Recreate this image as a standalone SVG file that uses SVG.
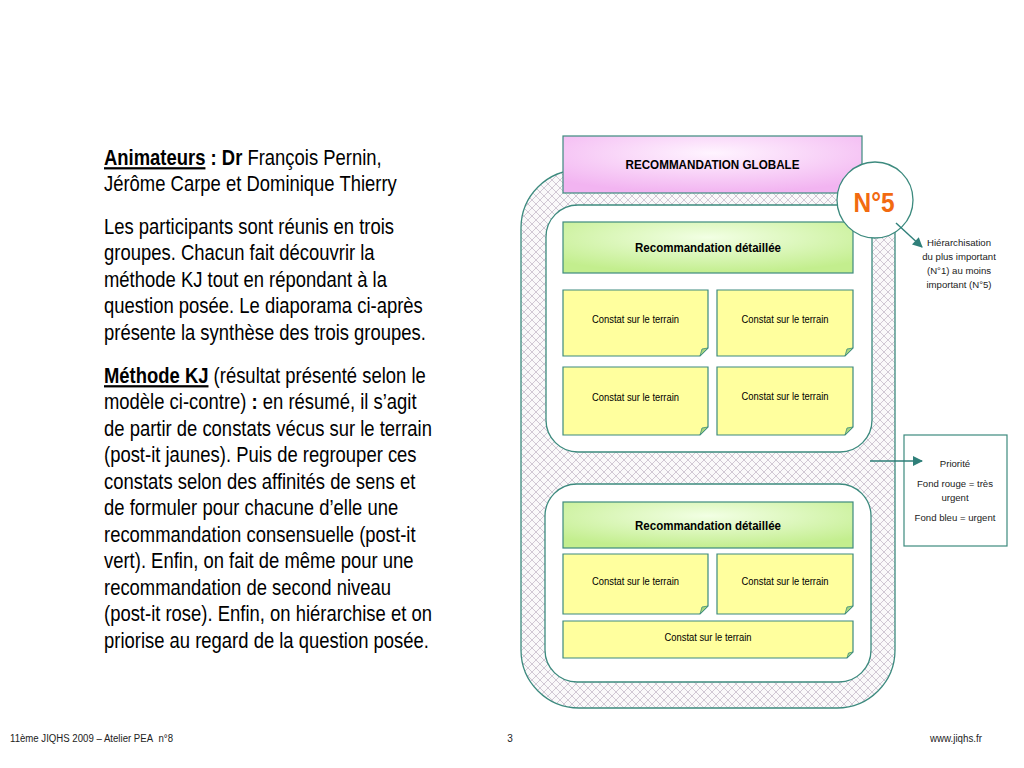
<svg xmlns="http://www.w3.org/2000/svg" width="1024" height="768" viewBox="0 0 1024 768">
<defs>
<style>
.t{font-family:"Liberation Sans",Arial,sans-serif;fill:#000}
.body{font-size:22.5px}
.b{font-weight:bold}
.note{fill:#FFFF9E;stroke:#3C8A7E;stroke-width:1.2}
.fold{fill:#A6D67E;stroke:#3C8A7E;stroke-width:0.8}
.small{font-size:10.6px;text-anchor:middle}
.side{font-size:9.6px;text-anchor:middle;fill:#222}
.teal{stroke:#2F7F79;stroke-width:1.4}
.foot{font-size:10px;fill:#222}
</style>
<pattern id="hatch" width="8" height="8" patternUnits="userSpaceOnUse">
<rect width="8" height="8" fill="#FAF9FA"/>
<path d="M0,4 L4,0 L8,4 L4,8 Z" fill="none" stroke="#CDC3D0" stroke-width="0.9"/>
</pattern>
<radialGradient id="pink" cx="0.5" cy="0.3" r="0.7">
<stop offset="0" stop-color="#FFF4FF"/>
<stop offset="1" stop-color="#F2B4F1"/>
</radialGradient>
<radialGradient id="green" cx="0.5" cy="0.3" r="0.7">
<stop offset="0" stop-color="#F2FFE4"/>
<stop offset="1" stop-color="#C3EE8E"/>
</radialGradient>
<marker id="ah" viewBox="0 0 10 10" refX="9" refY="5" markerWidth="11" markerHeight="10" orient="auto" markerUnits="userSpaceOnUse">
<path d="M0,0 L10,5 L0,10 Z" fill="#2F7F79"/>
</marker>
</defs>
<rect width="1024" height="768" fill="#FFFFFF"/>

<g id="left-text" transform="translate(104,0) scale(0.82,1)">
<text class="t body" x="0" y="165"><tspan class="b" text-decoration="underline">Animateurs</tspan><tspan class="b"> : Dr</tspan> François Pernin,</text>
<text class="t body" x="0" y="191.5">Jérôme Carpe et Dominique Thierry</text>
<text class="t body" x="0" y="234">Les participants sont réunis en trois</text>
<text class="t body" x="0" y="260.5">groupes. Chacun fait découvrir la</text>
<text class="t body" x="0" y="287">méthode KJ tout en répondant à la</text>
<text class="t body" x="0" y="313.5">question posée. Le diaporama ci-après</text>
<text class="t body" x="0" y="340">présente la synthèse des trois groupes.</text>
<text class="t body" x="0" y="383"><tspan class="b" text-decoration="underline">Méthode KJ</tspan> (résultat présenté selon le</text>
<text class="t body" x="0" y="409.5">modèle ci-contre) <tspan class="b">:</tspan> en résumé, il s’agit</text>
<text class="t body" x="0" y="436">de partir de constats vécus sur le terrain</text>
<text class="t body" x="0" y="462.5">(post-it jaunes). Puis de regrouper ces</text>
<text class="t body" x="0" y="489">constats selon des affinités de sens et</text>
<text class="t body" x="0" y="515.5">de formuler pour chacune d’elle une</text>
<text class="t body" x="0" y="542">recommandation consensuelle (post-it</text>
<text class="t body" x="0" y="568.5">vert). Enfin, on fait de même pour une</text>
<text class="t body" x="0" y="595">recommandation de second niveau</text>
<text class="t body" x="0" y="621.5">(post-it rose). Enfin, on hiérarchise et on</text>
<text class="t body" x="0" y="648">priorise au regard de la question posée.</text>
</g>

<g id="outer-frame">
<rect x="521" y="170" width="374" height="538" rx="58" ry="58" fill="url(#hatch)" stroke="#3C8A7E" stroke-width="1.3"/>
</g>

<g id="group-1">
<rect x="546" y="205" width="326" height="247" rx="32" ry="32" fill="#FFFFFF" stroke="#3C8A7E" stroke-width="1.3"/>
</g>
<g id="group-2">
<rect x="545" y="484" width="326" height="198" rx="32" ry="32" fill="#FFFFFF" stroke="#3C8A7E" stroke-width="1.3"/>
</g>

<g id="reco-globale">
<rect x="563" y="136" width="299" height="57" fill="url(#pink)" stroke="#3C8A7E" stroke-width="1.2"/>
<text class="t b" x="712.5" y="169" font-size="12" text-anchor="middle" textLength="174" lengthAdjust="spacingAndGlyphs">RECOMMANDATION GLOBALE</text>
</g>

<g id="reco-detail-1">
<rect x="563" y="222" width="290" height="51" fill="url(#green)" stroke="#3C8A7E" stroke-width="1.2"/>
<text class="t b" x="708" y="252" font-size="12" text-anchor="middle" textLength="146" lengthAdjust="spacingAndGlyphs">Recommandation détaillée</text>
</g>

<g id="constat-1">
<path class="note" d="M563,290 H708 V348 L700,356 H563 Z"/>
<path class="fold" d="M708,348 L700,356 L702,349 Z"/>
<text class="t small" x="635.5" y="323" textLength="87" lengthAdjust="spacingAndGlyphs">Constat sur le terrain</text>
</g>
<g id="constat-2">
<path class="note" d="M717,290 H853 V348 L845,356 H717 Z"/>
<path class="fold" d="M853,348 L845,356 L847,349 Z"/>
<text class="t small" x="785" y="323" textLength="87" lengthAdjust="spacingAndGlyphs">Constat sur le terrain</text>
</g>
<g id="constat-3">
<path class="note" d="M563,367 H708 V427 L700,435 H563 Z"/>
<path class="fold" d="M708,427 L700,435 L702,428 Z"/>
<text class="t small" x="635.5" y="401" textLength="87" lengthAdjust="spacingAndGlyphs">Constat sur le terrain</text>
</g>
<g id="constat-4">
<path class="note" d="M717,367 H853 V427 L845,435 H717 Z"/>
<path class="fold" d="M853,427 L845,435 L847,428 Z"/>
<text class="t small" x="785" y="400" textLength="87" lengthAdjust="spacingAndGlyphs">Constat sur le terrain</text>
</g>

<g id="reco-detail-2">
<rect x="563" y="502" width="290" height="46" fill="url(#green)" stroke="#3C8A7E" stroke-width="1.2"/>
<text class="t b" x="708" y="530" font-size="12" text-anchor="middle" textLength="146" lengthAdjust="spacingAndGlyphs">Recommandation détaillée</text>
</g>
<g id="constat-5">
<path class="note" d="M563,554 H708 V606 L700,614 H563 Z"/>
<path class="fold" d="M708,606 L700,614 L702,607 Z"/>
<text class="t small" x="635.5" y="585" textLength="87" lengthAdjust="spacingAndGlyphs">Constat sur le terrain</text>
</g>
<g id="constat-6">
<path class="note" d="M717,554 H853 V606 L845,614 H717 Z"/>
<path class="fold" d="M853,606 L845,614 L847,607 Z"/>
<text class="t small" x="785" y="585" textLength="87" lengthAdjust="spacingAndGlyphs">Constat sur le terrain</text>
</g>
<g id="constat-7">
<path class="note" d="M563,621 H853 V652 L847,658 H563 Z"/>
<path class="fold" d="M853,652 L847,658 L848.5,653 Z"/>
<text class="t small" x="708" y="641" textLength="87" lengthAdjust="spacingAndGlyphs">Constat sur le terrain</text>
</g>

<g id="n5">
<circle cx="875" cy="200" r="38" fill="#FFFFFF" stroke="#3C8A7E" stroke-width="1.3"/>
<text class="t b" x="874" y="212" font-size="27" text-anchor="middle" style="fill:#F26A10" textLength="41" lengthAdjust="spacingAndGlyphs">N°5</text>
</g>

<g id="hierarchisation-note">
<text class="t side" x="959" y="246">Hiérarchisation</text>
<text class="t side" x="959" y="260">du plus important</text>
<text class="t side" x="959" y="274">(N°1) au moins</text>
<text class="t side" x="959" y="288">important (N°5)</text>
</g>

<g id="priorite-box">
<rect x="904" y="435" width="103" height="111" fill="#FFFFFF" stroke="#3C8A7E" stroke-width="1.2"/>
<text class="t side" x="955" y="467">Priorité</text>
<text class="t side" x="955" y="487">Fond rouge = très</text>
<text class="t side" x="955" y="501">urgent</text>
<text class="t side" x="955" y="521">Fond bleu = urgent</text>
</g>

<g id="connectors" fill="none">
<line class="teal" x1="896" y1="223" x2="922" y2="247" marker-end="url(#ah)"/>
<line class="teal" x1="870" y1="461" x2="922" y2="461" marker-end="url(#ah)"/>
</g>

<g id="footer">
<text class="t foot" x="10" y="742" textLength="163" lengthAdjust="spacingAndGlyphs">11ème JIQHS 2009 – Atelier PEA&#160; n°8</text>
<text class="t foot" x="510" y="742" text-anchor="middle">3</text>
<text class="t foot" x="930" y="742" textLength="52" lengthAdjust="spacingAndGlyphs">www.jiqhs.fr</text>
</g>
</svg>
